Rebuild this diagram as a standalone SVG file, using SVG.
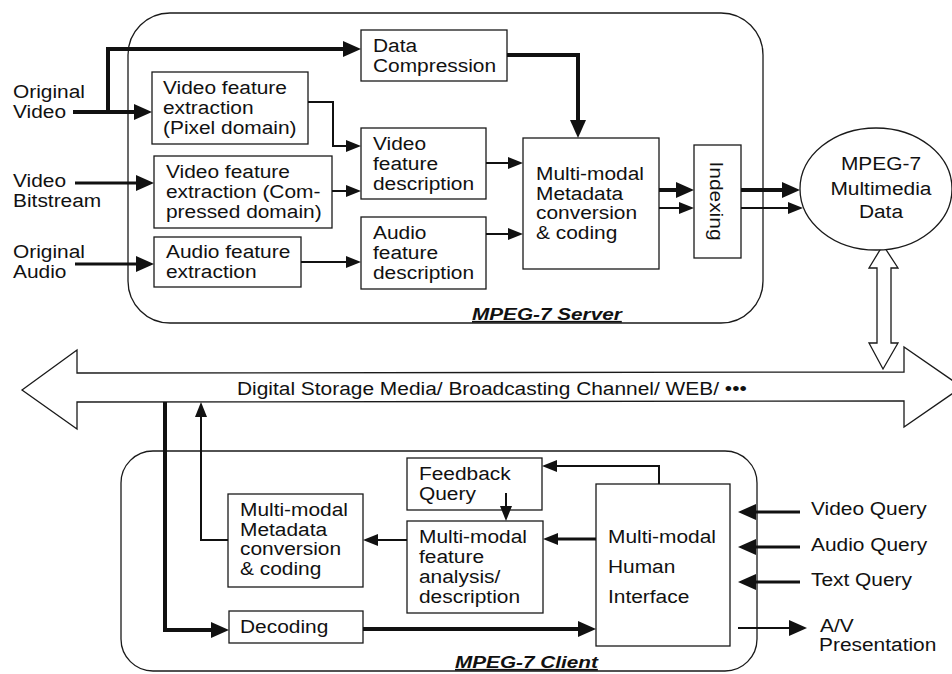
<svg xmlns="http://www.w3.org/2000/svg" width="952" height="674" viewBox="0 0 952 674">
  <style>
    .bg { fill: #ffffff; }
    .box { fill: #ffffff; stroke: #1a1a1a; stroke-width: 1.3; }
    .frame { fill: none; stroke: #1a1a1a; stroke-width: 1.3; }
    .hollow { fill: #ffffff; stroke: #1a1a1a; stroke-width: 1.3; stroke-linejoin: miter; }
    .t { font-family: "Liberation Sans", Arial, sans-serif; font-size: 19px; fill: #111111;
         transform-box: fill-box; transform-origin: 0 50%; transform: scaleX(1.1); }
    .c { font-family: "Liberation Sans", Arial, sans-serif; font-size: 19px; fill: #111111; text-anchor: middle;
         transform-box: fill-box; transform-origin: 50% 50%; transform: scaleX(1.1); }
    .r { font-family: "Liberation Sans", Arial, sans-serif; font-size: 19px; fill: #111111; text-anchor: middle; }
    .lbl { font-family: "Liberation Sans", Arial, sans-serif; font-size: 17px; font-weight: bold; font-style: italic;
           text-decoration: underline; fill: #111111;
           transform-box: fill-box; transform-origin: 0 50%; transform: scaleX(1.22); }
    .w4 { fill: none; stroke: #111111; stroke-width: 4; }
    .w3 { fill: none; stroke: #111111; stroke-width: 3; }
    .w2 { fill: none; stroke: #111111; stroke-width: 2; }
  </style>
  <defs>
    <marker id="ab" markerUnits="userSpaceOnUse" markerWidth="18" markerHeight="16" refX="12" refY="8" orient="auto">
      <path d="M0,0 L18,8 L0,16 Z" fill="#111111"/>
    </marker>
    <marker id="as" markerUnits="userSpaceOnUse" markerWidth="15" markerHeight="12" refX="10" refY="6" orient="auto">
      <path d="M0,0 L15,6 L0,12 Z" fill="#111111"/>
    </marker>
  </defs>

  <rect class="bg" x="0" y="0" width="952" height="674"/>

  <!-- server and client enclosures -->
  <g id="server">
    <rect class="frame" x="128" y="13" width="635" height="310" rx="42" ry="42"/>
    <text class="lbl" x="472" y="320">MPEG-7 Server</text>
  </g>
  <g id="client">
    <rect class="frame" x="121" y="451" width="636" height="220" rx="32" ry="32"/>
    <text class="lbl" x="455" y="668">MPEG-7 Client</text>
  </g>

  <!-- transmission bus -->
  <g id="bus">
    <polygon class="hollow" points="22,390 77,350 77,373 904,372 904,347 962,387 904,427 904,401 77,402 77,429"/>
    <text class="t" x="237" y="395">Digital Storage Media/ Broadcasting Channel/ WEB/ •••</text>
  </g>

  <!-- storage link between data and bus -->
  <g id="storage-link">
    <polygon class="hollow" points="883,245 898,268 891,268 891,343 898,343 883,369 869,343 877,343 877,268 869,268"/>
  </g>

  <!-- inputs -->
  <g id="in-video">
    <text class="t" x="13" y="98">Original<tspan x="13" y="118">Video</tspan></text>
  </g>
  <g id="in-bitstream">
    <text class="t" x="13" y="187">Video<tspan x="13" y="207">Bitstream</tspan></text>
  </g>
  <g id="in-audio">
    <text class="t" x="13" y="258">Original<tspan x="13" y="278">Audio</tspan></text>
  </g>

  <!-- server blocks -->
  <g id="data-compression">
    <rect class="box" x="361" y="30" width="146" height="51"/>
    <text class="t" x="373" y="52">Data<tspan x="373" y="72">Compression</tspan></text>
  </g>
  <g id="vfe-pixel">
    <rect class="box" x="152" y="72" width="156" height="72"/>
    <text class="t" x="163" y="94">Video feature<tspan x="163" y="114">extraction</tspan><tspan x="163" y="134">(Pixel domain)</tspan></text>
  </g>
  <g id="vfe-compressed">
    <rect class="box" x="154" y="156" width="178" height="72"/>
    <text class="t" x="166" y="178">Video feature<tspan x="166" y="198">extraction (Com-</tspan><tspan x="166" y="218">pressed domain)</tspan></text>
  </g>
  <g id="afe">
    <rect class="box" x="154" y="237" width="147" height="50"/>
    <text class="t" x="166" y="258">Audio feature<tspan x="166" y="278">extraction</tspan></text>
  </g>
  <g id="vfd">
    <rect class="box" x="361" y="128" width="125" height="71"/>
    <text class="t" x="373" y="150">Video<tspan x="373" y="170">feature</tspan><tspan x="373" y="190">description</tspan></text>
  </g>
  <g id="afd">
    <rect class="box" x="361" y="217" width="125" height="72"/>
    <text class="t" x="373" y="239">Audio<tspan x="373" y="259">feature</tspan><tspan x="373" y="279">description</tspan></text>
  </g>
  <g id="server-metadata">
    <rect class="box" x="523" y="138" width="136" height="131"/>
    <text class="t" x="536" y="180">Multi-modal<tspan x="536" y="200">Metadata</tspan><tspan x="536" y="219">conversion</tspan><tspan x="536" y="239">&amp; coding</tspan></text>
  </g>
  <g id="indexing">
    <rect class="box" x="694" y="145" width="47" height="113"/>
    <text class="r" transform="translate(710,201) rotate(90) scale(1.1,1)">Indexing</text>
  </g>
  <g id="mpeg7-data">
    <ellipse class="box" cx="876" cy="189" rx="76" ry="61"/>
    <text class="c" x="881" y="170">MPEG-7</text>
    <text class="c" x="881" y="195">Multimedia</text>
    <text class="c" x="881" y="218">Data</text>
  </g>

  <!-- client blocks -->
  <g id="feedback">
    <rect class="box" x="407" y="458" width="135" height="52"/>
    <text class="t" x="419" y="480">Feedback<tspan x="419" y="500">Query</tspan></text>
  </g>
  <g id="analysis">
    <rect class="box" x="407" y="521" width="136" height="92"/>
    <text class="t" x="419" y="543">Multi-modal<tspan x="419" y="563">feature</tspan><tspan x="419" y="583">analysis/</tspan><tspan x="419" y="603">description</tspan></text>
  </g>
  <g id="client-metadata">
    <rect class="box" x="228" y="494" width="135" height="93"/>
    <text class="t" x="240" y="516">Multi-modal<tspan x="240" y="536">Metadata</tspan><tspan x="240" y="555">conversion</tspan><tspan x="240" y="575">&amp; coding</tspan></text>
  </g>
  <g id="decoding">
    <rect class="box" x="229" y="611" width="134" height="32"/>
    <text class="t" x="240" y="633">Decoding</text>
  </g>
  <g id="human-interface">
    <rect class="box" x="596" y="484" width="134" height="162"/>
    <text class="t" x="608" y="543">Multi-modal<tspan x="608" y="573">Human</tspan><tspan x="608" y="603">Interface</tspan></text>
  </g>
  <g id="queries">
    <text class="t" x="811" y="515">Video Query</text>
    <text class="t" x="811" y="551">Audio Query</text>
    <text class="t" x="811" y="586">Text Query</text>
    <text class="t" x="820" y="632">A/V</text>
    <text class="t" x="819" y="651">Presentation</text>
  </g>

  <!-- connectors -->
  <g id="connectors">
    <path class="w4" d="M73,112 H146" marker-end="url(#ab)"/>
    <path class="w4" d="M108,112 V49 H355" marker-end="url(#ab)"/>
    <path class="w3" d="M75,183 H148" marker-end="url(#ab)"/>
    <path class="w3" d="M75,264 H148" marker-end="url(#ab)"/>
    <path class="w2" d="M308,102 H333 V146 H356" marker-end="url(#as)"/>
    <path class="w2" d="M332,191 H356" marker-end="url(#as)"/>
    <path class="w2" d="M301,262 H356" marker-end="url(#as)"/>
    <path class="w4" d="M507,55 H578 V132" marker-end="url(#ab)"/>
    <path class="w2" d="M486,163 H518" marker-end="url(#as)"/>
    <path class="w2" d="M486,234 H518" marker-end="url(#as)"/>
    <path class="w4" d="M659,190 H688" marker-end="url(#ab)"/>
    <path class="w2" d="M659,208 H689" marker-end="url(#as)"/>
    <path class="w4" d="M741,190 H794" marker-end="url(#ab)"/>
    <path class="w2" d="M741,208 H798" marker-end="url(#as)"/>

    <path class="w4" d="M165,402 V630 H223" marker-end="url(#ab)"/>
    <path class="w2" d="M228,540 H201 V407" marker-end="url(#as)"/>
    <path class="w2" d="M407,540 H368" marker-end="url(#as)"/>
    <path class="w3" d="M596,539 H548" marker-end="url(#as)"/>
    <path class="w2" d="M659,484 V466 H547" marker-end="url(#as)"/>
    <path class="w2" d="M506,493 V516" marker-end="url(#as)"/>
    <path class="w4" d="M363,629 H590" marker-end="url(#ab)"/>
    <path class="w3" d="M800,512 H744" marker-end="url(#ab)"/>
    <path class="w3" d="M800,547 H744" marker-end="url(#ab)"/>
    <path class="w3" d="M800,582 H744" marker-end="url(#ab)"/>
    <path class="w2" d="M738,628 H801" marker-end="url(#ab)"/>
  </g>
</svg>
